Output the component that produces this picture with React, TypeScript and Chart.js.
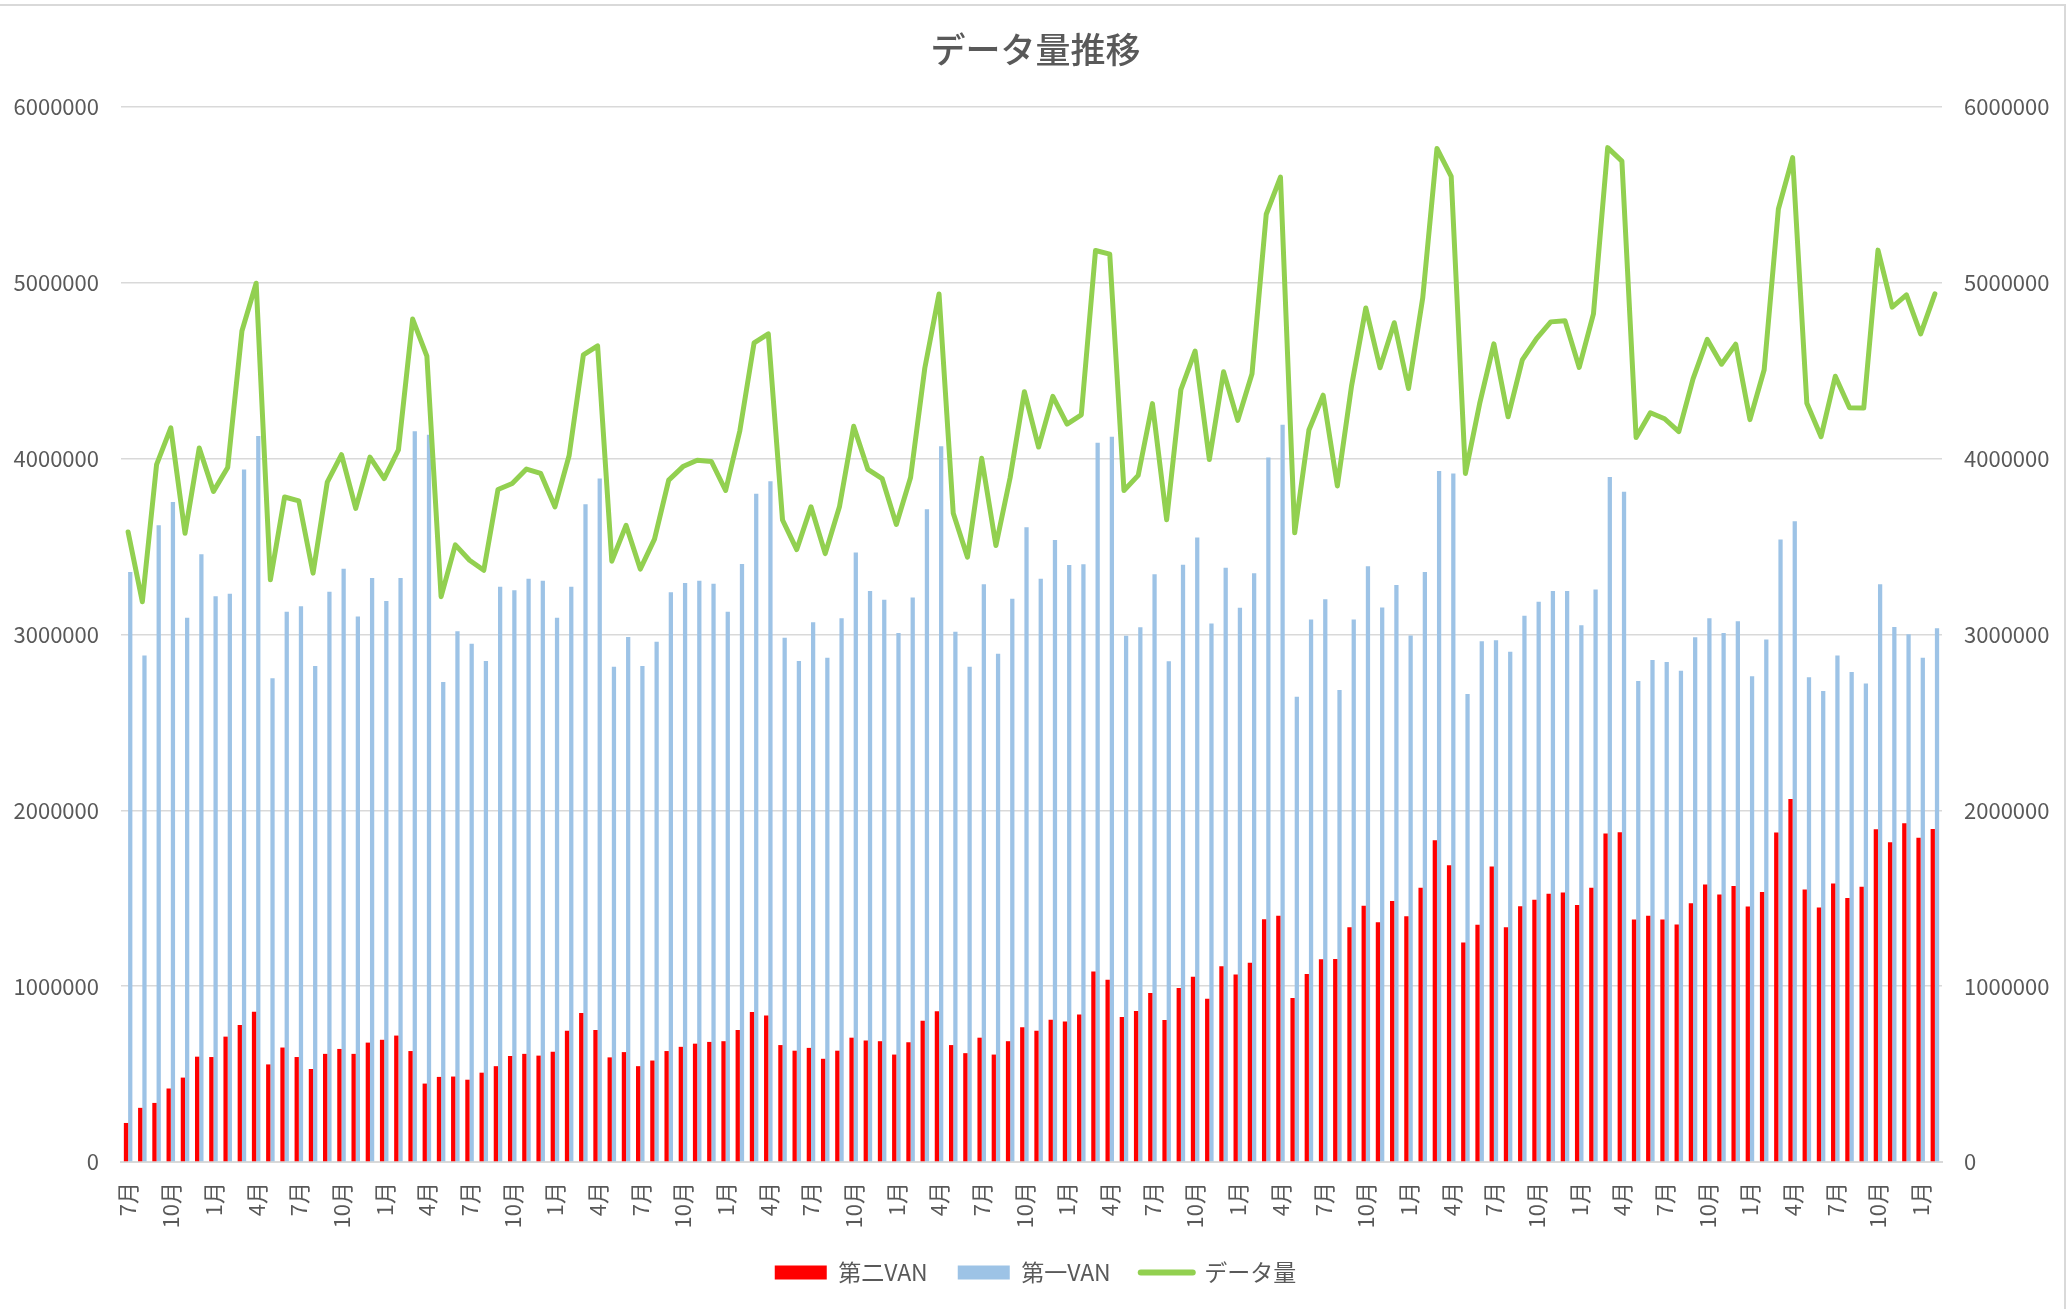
import React, { useEffect, useRef } from 'react';
import { Chart, registerables } from 'chart.js';

Chart.register(...registerables);

// Months: July of the first year through February eleven years later (128 months)
const monthCycle = ['7月', '8月', '9月', '10月', '11月', '12月', '1月', '2月', '3月', '4月', '5月', '6月'];
const months: string[] = Array.from({ length: 128 }, (_, i) => monthCycle[i % 12]);

// 第二VAN (thousands)
const secondVanK = [
  222, 308, 336, 418, 480, 599, 597, 713, 779, 855,
  555, 651, 597, 529, 615, 643, 615, 679, 695, 719,
  631, 446, 484, 486, 468, 508, 545, 603, 615, 605,
  627, 747, 847, 751, 595, 625, 545, 577, 631, 655,
  673, 683, 687, 751, 853, 833, 665, 633, 649, 587,
  633, 707, 691, 687, 611, 681, 803, 857, 665, 619,
  707, 611, 687, 767, 747, 809, 799, 839, 1083, 1037,
  825, 859, 961, 807, 989, 1053, 929, 1113, 1067, 1133,
  1381, 1401, 933, 1069, 1153, 1155, 1335, 1457, 1363, 1485,
  1397, 1560, 1830, 1688, 1249, 1349, 1680, 1335, 1455, 1491,
  1526, 1532, 1461, 1560, 1868, 1876, 1379, 1401, 1379, 1351,
  1471, 1578, 1522, 1570, 1453, 1536, 1874, 2064, 1550, 1447,
  1584, 1501, 1566, 1892, 1818, 1926, 1844, 1894,
];

// 第一VAN (thousands)
const firstVanK = [
  3356, 2880, 3621, 3753, 3095, 3456, 3218, 3232, 3939, 4129,
  2751, 3129, 3161, 2821, 3243, 3374, 3102, 3322, 3190, 3322,
  4156, 4136, 2730, 3018, 2948, 2850, 3272, 3252, 3317, 3306,
  3095, 3272, 3741, 3887, 2816, 2986, 2821, 2959, 3240, 3293,
  3306, 3288, 3129, 3401, 3800, 3871, 2982, 2850, 3070, 2868,
  3093, 3467, 3247, 3197, 3009, 3211, 3712, 4070, 3016, 2816,
  3286, 2891, 3204, 3610, 3317, 3537, 3395, 3399, 4091, 4125,
  2993, 3041, 3342, 2848, 3397, 3551, 3063, 3379, 3152, 3349,
  4007, 4193, 2646, 3086, 3200, 2685, 3086, 3388, 3154, 3281,
  2995, 3356, 3930, 3916, 2662, 2961, 2968, 2902, 3107, 3186,
  3247, 3247, 3052, 3256, 3896, 3812, 2735, 2855, 2844, 2794,
  2984, 3093, 3009, 3075, 2762, 2971, 3540, 3644, 2757, 2678,
  2880, 2787, 2721, 3286, 3043, 3002, 2868, 3036,
];

// データ量 (thousands)
const dataVolumeK = [
  3583, 3186, 3966, 4175, 3576, 4061, 3814, 3950, 4726, 4998,
  3311, 3782, 3760, 3349, 3866, 4023, 3717, 4009, 3887, 4050,
  4794, 4583, 3215, 3510, 3422, 3365, 3825, 3859, 3941, 3916,
  3726, 4018, 4590, 4642, 3417, 3621, 3372, 3542, 3878, 3955,
  3991, 3984, 3819, 4159, 4658, 4710, 3651, 3483, 3726, 3460,
  3726, 4184, 3939, 3887, 3626, 3893, 4515, 4937, 3689, 3440,
  4002, 3506, 3893, 4381, 4066, 4354, 4197, 4249, 5184, 5163,
  3819, 3905, 4313, 3653, 4392, 4612, 3995, 4494, 4218, 4483,
  5390, 5601, 3578, 4163, 4361, 3845, 4415, 4857, 4517, 4773,
  4399, 4914, 5764, 5605, 3916, 4313, 4653, 4238, 4562, 4683,
  4778, 4785, 4519, 4823, 5769, 5692, 4120, 4261, 4227, 4154,
  4454, 4678, 4537, 4651, 4222, 4506, 5420, 5712, 4315, 4125,
  4469, 4290, 4288, 5186, 4862, 4932, 4710, 4937,
];

const secondVan = secondVanK.map((v) => v * 1000);
const firstVan = firstVanK.map((v) => v * 1000);
const dataVolume = dataVolumeK.map((v) => v * 1000);

const yMin = 0;
const yMax = 6000000;
const yStep = 1000000;

const FONT = "'Noto Sans CJK JP', 'Noto Sans', sans-serif";
const TEXT = '#595959';
const GRID = '#d9d9d9';

export default function App() {
  const ref = useRef<HTMLCanvasElement>(null);

  useEffect(() => {
    const canvas = ref.current;
    if (!canvas) return;
    const tickFont = { family: FONT, size: 22 };
    const chart = new Chart(canvas, {
      type: 'bar',
      data: {
        labels: months,
        datasets: [
          {
            type: 'bar',
            label: '第二VAN',
            data: secondVan,
            backgroundColor: '#ff0000',
            yAxisID: 'y',
            order: 1,
            categoryPercentage: 0.6,
            barPercentage: 1,
          },
          {
            type: 'bar',
            label: '第一VAN',
            data: firstVan,
            backgroundColor: '#9dc3e6',
            yAxisID: 'y',
            order: 1,
            categoryPercentage: 0.6,
            barPercentage: 1,
          },
          {
            type: 'line',
            label: 'データ量',
            data: dataVolume,
            borderColor: '#92d050',
            backgroundColor: '#92d050',
            borderWidth: 5,
            pointRadius: 0,
            tension: 0,
            yAxisID: 'y1',
            order: 0,
            borderJoinStyle: 'round',
            borderCapStyle: 'round',
          } as any,
        ],
      },
      options: {
        responsive: false,
        animation: false,
        devicePixelRatio: 1,
        layout: { padding: { left: 0, right: 0, top: 0, bottom: 15 } },
        plugins: {
          title: {
            display: true,
            text: 'データ量推移',
            color: TEXT,
            font: { family: FONT, size: 35, weight: 500 },
            padding: { top: 29, bottom: 36 },
          },
          legend: {
            position: 'bottom',
            labels: {
              usePointStyle: true,
              pointStyleWidth: 52,
              boxHeight: 14,
              padding: 30,
              color: TEXT,
              font: { family: FONT, size: 23 },
              generateLabels: (ch: any) =>
                ch.data.datasets.map((ds: any, i: number) => {
                  const isLine = ds.type === 'line';
                  const c = isLine ? ds.borderColor : ds.backgroundColor;
                  return {
                    text: ds.label,
                    fillStyle: c,
                    strokeStyle: c,
                    lineWidth: isLine ? 6 : 0,
                    lineCap: 'round',
                    pointStyle: isLine ? 'line' : 'rect',
                    fontColor: TEXT,
                    hidden: false,
                    datasetIndex: i,
                  };
                }),
            },
          },
          tooltip: { enabled: false },
        },
        scales: {
          x: {
            grid: { display: false, drawTicks: false },
            border: { display: true, color: GRID, width: 2 },
            ticks: {
              autoSkip: false,
              minRotation: 90,
              maxRotation: 90,
              padding: 20,
              color: TEXT,
              font: tickFont,
              callback: (_v: any, i: number) => (i % 3 === 0 ? months[i] : ''),
            },
            afterFit: (s: any) => {
              s.height = 69;
            },
          },
          y: {
            position: 'left',
            min: yMin,
            max: yMax,
            ticks: {
              stepSize: yStep,
              padding: 22,
              color: TEXT,
              font: tickFont,
              callback: (v: any) => String(v),
            },
            grid: { color: GRID, lineWidth: 1.5, drawTicks: false },
            border: { display: false },
            afterFit: (s: any) => {
              s.width = 121;
            },
          },
          y1: {
            position: 'right',
            min: yMin,
            max: yMax,
            ticks: {
              stepSize: yStep,
              padding: 22,
              color: TEXT,
              font: tickFont,
              callback: (v: any) => String(v),
            },
            grid: { display: false, drawTicks: false },
            border: { display: false },
            afterFit: (s: any) => {
              s.width = 129;
            },
          },
        },
      } as any,
    });
    return () => chart.destroy();
  }, []);

  return (
    <div style={{ position: 'absolute', left: 0, top: 0, width: 2071, height: 1309, background: '#fff' }}>
      <canvas ref={ref} width={2071} height={1309} style={{ width: 2071, height: 1309, display: 'block' }} />
      <div
        style={{
          position: 'absolute',
          left: 0,
          top: 4,
          width: 2066,
          height: 1305,
          borderTop: `2px solid ${GRID}`,
          borderRight: `2px solid ${GRID}`,
          boxSizing: 'border-box',
          pointerEvents: 'none',
        }}
      />
    </div>
  );
}
